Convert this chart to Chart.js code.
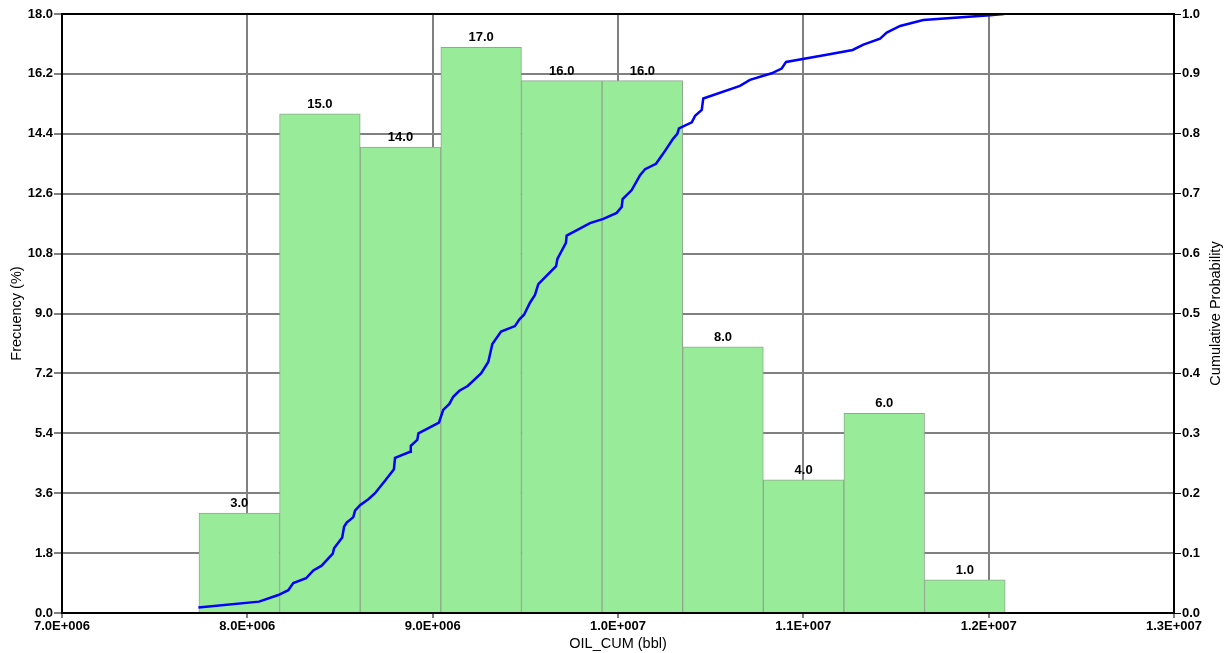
<!DOCTYPE html>
<html>
<head>
<meta charset="utf-8">
<script src="https://cdn.jsdelivr.net/npm/chart.js@4.4.1/dist/chart.umd.min.js"></script>
<style>
    html, body { margin: 0; padding: 0; background: #fff; }
    #grafico { display: block; }
</style>
</head>
<body>
<canvas id="grafico" width="1228" height="653"></canvas>
<script>
// histogram bins (bbl) and frequencies (%)
const binEdges = [7.739e6, 8.174e6, 8.609e6, 9.044e6, 9.479e6, 9.914e6, 10.349e6, 10.784e6, 11.219e6, 11.654e6, 12.089e6];
const frecuencias = [3, 15, 14, 17, 16, 16, 8, 4, 6, 1];

// cumulative probability curve
const cumX = [7.736e6, 8.063e6, 8.167e6, 8.221e6, 8.248e6, 8.317e6, 8.356e6, 8.401e6, 8.461e6, 8.468e6,
    8.512e6, 8.522e6, 8.536e6, 8.572e6, 8.581e6, 8.608e6, 8.653e6, 8.689e6, 8.748e6, 8.791e6,
    8.797e6, 8.878e6, 8.882e6, 8.917e6, 8.923e6, 9.034e6, 9.057e6, 9.090e6, 9.111e6, 9.144e6,
    9.189e6, 9.261e6, 9.300e6, 9.322e6, 9.369e6, 9.444e6, 9.467e6, 9.493e6, 9.525e6, 9.552e6,
    9.570e6, 9.666e6, 9.673e6, 9.719e6, 9.723e6, 9.849e6, 9.921e6, 9.993e6, 10.020e6, 10.025e6,
    10.074e6, 10.119e6, 10.146e6, 10.205e6, 10.244e6, 10.295e6, 10.320e6, 10.329e6, 10.398e6, 10.416e6,
    10.452e6, 10.460e6, 10.658e6, 10.712e6, 10.829e6, 10.883e6, 10.907e6, 11.126e6, 11.266e6, 11.324e6,
    11.414e6, 11.450e6, 11.522e6, 11.647e6, 12.007e6, 12.084e6];
const cumP = [0.009, 0.019, 0.030, 0.038, 0.050, 0.058, 0.071, 0.079, 0.099, 0.108,
    0.126, 0.144, 0.151, 0.160, 0.171, 0.180, 0.190, 0.200, 0.223, 0.240,
    0.259, 0.269, 0.279, 0.289, 0.300, 0.318, 0.339, 0.349, 0.361, 0.371,
    0.379, 0.400, 0.419, 0.449, 0.470, 0.479, 0.490, 0.498, 0.518, 0.531,
    0.549, 0.579, 0.591, 0.618, 0.630, 0.651, 0.658, 0.668, 0.678, 0.691,
    0.706, 0.731, 0.741, 0.750, 0.767, 0.791, 0.800, 0.809, 0.819, 0.830,
    0.840, 0.859, 0.880, 0.890, 0.901, 0.909, 0.920, 0.932, 0.940, 0.949,
    0.959, 0.969, 0.980, 0.990, 0.998, 1.000];

// axis ticks
const xTicks = [7e6, 8e6, 9e6, 10e6, 11e6, 12e6, 13e6];
const xTickLabels = ["7.0E+006", "8.0E+006", "9.0E+006", "1.0E+007", "1.1E+007", "1.2E+007", "1.3E+007"];
const freqTicks = [0, 1.8, 3.6, 5.4, 7.2, 9.0, 10.8, 12.6, 14.4, 16.2, 18.0];
const probTicks = [0, 0.1, 0.2, 0.3, 0.4, 0.5, 0.6, 0.7, 0.8, 0.9, 1.0];

const FONTE = "'Liberation Sans', Arial, sans-serif";
const fonteTick = { family: FONTE, size: 13, weight: 'bold' };
const fonteTitulo = { family: FONTE, size: 14.5, weight: 'normal' };

const barras = frecuencias.map((f, i) => ({ x: (binEdges[i] + binEdges[i + 1]) / 2, y: f }));
const curva = cumX.map((x, i) => ({ x: x, y: cumP[i] }));

const rotulosBarras = {
    id: 'rotulosBarras',
    afterDatasetsDraw(chart) {
        const ctx = chart.ctx;
        const meta = chart.getDatasetMeta(1);
        ctx.save();
        ctx.font = "bold 13px " + FONTE;
        ctx.fillStyle = '#000';
        ctx.textAlign = 'center';
        ctx.textBaseline = 'bottom';
        meta.data.forEach((bar, i) => {
            ctx.fillText(frecuencias[i].toFixed(1), bar.x, bar.y - 3);
        });
        ctx.restore();
    }
};

// frame + right-hand title (reads bottom to top like the left one)
const moldura = {
    id: 'moldura',
    afterDraw(chart) {
        const { ctx, chartArea: a } = chart;
        ctx.save();
        ctx.strokeStyle = '#000';
        ctx.lineWidth = 2;
        ctx.strokeRect(a.left, a.top, a.right - a.left, a.bottom - a.top);
        ctx.translate(1216, (a.top + a.bottom) / 2);
        ctx.rotate(-Math.PI / 2);
        ctx.font = "14.5px " + FONTE;
        ctx.fillStyle = '#000';
        ctx.textAlign = 'center';
        ctx.textBaseline = 'middle';
        ctx.fillText('Cumulative Probability', 0, 0);
        ctx.restore();
    }
};

new Chart(document.getElementById('grafico').getContext('2d'), {
    type: 'bar',
    data: {
        datasets: [
            {
                type: 'line',
                data: curva,
                yAxisID: 'y1',
                borderColor: '#0000ff',
                borderWidth: 2.5,
                pointRadius: 0,
                tension: 0,
                fill: false,
                order: 0
            },
            {
                type: 'bar',
                data: barras,
                yAxisID: 'y',
                backgroundColor: '#98eb98',
                borderColor: '#8fa88f',
                borderWidth: 1,
                barPercentage: 1,
                categoryPercentage: 1,
                order: 1
            }
        ]
    },
    options: {
        responsive: false,
        animation: false,
        layout: { padding: { top: 14, left: 0, right: 0, bottom: 0 } },
        plugins: {
            legend: { display: false },
            tooltip: { enabled: false }
        },
        scales: {
            x: {
                type: 'linear',
                position: 'bottom',
                offset: false,
                min: 7e6,
                max: 13e6,
                afterBuildTicks: s => { s.ticks = xTicks.map(v => ({ value: v })); },
                afterFit: s => { s.height = 40; },
                ticks: {
                    font: fonteTick,
                    color: '#000',
                    padding: 1,
                    maxRotation: 0,
                    autoSkip: false,
                    callback: (v, i) => xTickLabels[i]
                },
                grid: { offset: false, color: '#808080', lineWidth: 2, tickColor: '#000', tickLength: 5, tickWidth: 1 },
                border: { color: '#000', width: 2 },
                title: { display: true, text: 'OIL_CUM (bbl)', font: fonteTitulo, color: '#000', padding: { top: 0, bottom: 0 } }
            },
            y: {
                position: 'left',
                min: 0,
                max: 18,
                afterBuildTicks: s => { s.ticks = freqTicks.map(v => ({ value: v })); },
                afterFit: s => { s.width = 62; },
                ticks: {
                    font: fonteTick,
                    color: '#000',
                    padding: 1,
                    autoSkip: false,
                    callback: v => Number(v).toFixed(1)
                },
                grid: { color: '#808080', lineWidth: 2, tickColor: '#000', tickLength: 8, tickWidth: 1 },
                border: { color: '#000', width: 2 },
                title: { display: true, text: 'Frecuency (%)', font: fonteTitulo, color: '#000', padding: { top: 8, bottom: 0 } }
            },
            y1: {
                position: 'right',
                min: 0,
                max: 1,
                afterBuildTicks: s => { s.ticks = probTicks.map(v => ({ value: v })); },
                afterFit: s => { s.width = 54; },
                ticks: {
                    font: fonteTick,
                    color: '#000',
                    padding: 1,
                    autoSkip: false,
                    callback: v => Number(v).toFixed(1)
                },
                grid: { drawOnChartArea: false, tickColor: '#000', tickLength: 7, tickWidth: 1 },
                border: { color: '#000', width: 2 }
            }
        }
    },
    plugins: [rotulosBarras, moldura]
});
</script>
</body>
</html>
